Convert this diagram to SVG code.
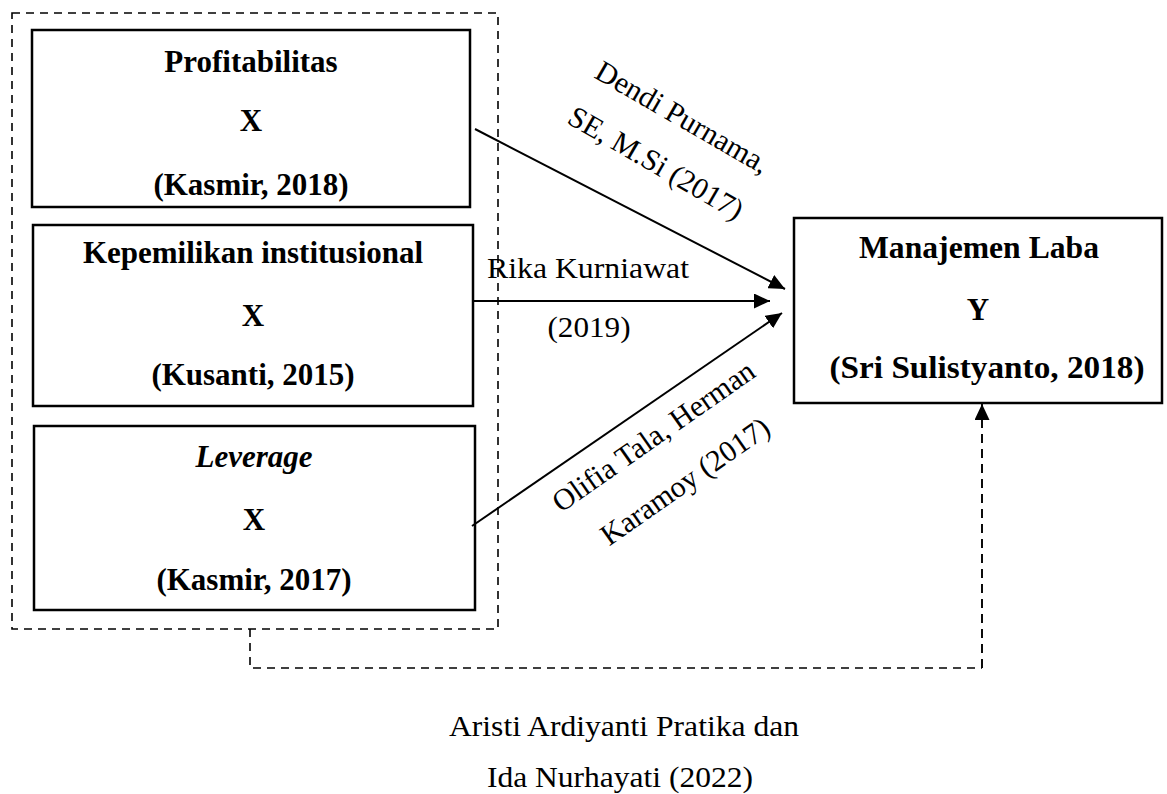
<svg xmlns="http://www.w3.org/2000/svg" width="1167" height="794" viewBox="0 0 1167 794">
<style>
  .box { fill: #ffffff; stroke: #000000; stroke-width: 2.5; }
  .dash { fill: none; stroke: #000000; stroke-width: 1.6; stroke-dasharray: 8 6; }
  .dash2 { fill: none; stroke: #000000; stroke-width: 1.9; stroke-dasharray: 9 6; }
  .arrow { fill: none; stroke: #000000; stroke-width: 2; }
  .bt { font-family: "Liberation Serif", "Times New Roman", serif; font-size: 31px; font-weight: bold; fill: #000000; text-anchor: middle; }
  .lb { font-family: "Liberation Serif", "Times New Roman", serif; font-size: 30px; fill: #000000; text-anchor: middle; }
</style>
<defs>
  <marker id="head" markerUnits="userSpaceOnUse" markerWidth="16" markerHeight="15" refX="16" refY="7.5" orient="auto">
    <path d="M0,0 L16,7.5 L0,15 z" fill="#000000"/>
  </marker>
</defs>
<rect width="1167" height="794" fill="#ffffff"/>

<g id="group-x">
  <rect class="dash" x="12" y="13" width="486" height="616"/>
</g>

<g id="node-profitabilitas">
  <rect class="box" x="32" y="30" width="438" height="177"/>
  <text class="bt" x="251" y="72">Profitabilitas</text>
  <text class="bt" x="251" y="131">X</text>
  <text class="bt" x="251" y="195">(Kasmir, 2018)</text>
</g>

<g id="node-kepemilikan">
  <rect class="box" x="33" y="225" width="440" height="181"/>
  <text class="bt" x="253" y="263">Kepemilikan institusional</text>
  <text class="bt" x="253" y="326">X</text>
  <text class="bt" x="253" y="385">(Kusanti, 2015)</text>
</g>

<g id="node-leverage">
  <rect class="box" x="34" y="426" width="441" height="184"/>
  <text class="bt" x="254" y="467" font-style="italic">Leverage</text>
  <text class="bt" x="254" y="530">X</text>
  <text class="bt" x="254" y="590">(Kasmir, 2017)</text>
</g>

<g id="node-manajemen-laba">
  <rect class="box" x="794" y="218" width="368" height="185"/>
  <text class="bt" x="979" y="258" textLength="240" lengthAdjust="spacingAndGlyphs">Manajemen Laba</text>
  <text class="bt" x="978" y="320">Y</text>
  <text class="bt" x="987" y="378" textLength="315" lengthAdjust="spacingAndGlyphs">(Sri Sulistyanto, 2018)</text>
</g>

<g id="connectors">
  <line class="arrow" x1="475" y1="129" x2="785" y2="289" marker-end="url(#head)"/>
  <line class="arrow" x1="473" y1="301" x2="770" y2="301" marker-end="url(#head)"/>
  <line class="arrow" x1="472" y1="526" x2="782" y2="313" marker-end="url(#head)"/>
  <path class="dash" d="M250,629 L250,668 L982,668"/>
  <path class="dash2" d="M982,668 L982,404" marker-end="url(#head)"/>
</g>

<g id="labels">
  <g transform="translate(682,118) rotate(30)">
    <text class="lb" x="0" y="9">Dendi Purnama,</text>
    <text class="lb" x="0" y="62">SE, M.Si (2017)</text>
  </g>
  <text class="lb" x="588" y="278" textLength="202" lengthAdjust="spacingAndGlyphs">Rika Kurniawat</text>
  <text class="lb" x="589" y="337" textLength="83" lengthAdjust="spacingAndGlyphs">(2019)</text>
  <g transform="translate(654,437) rotate(-35)">
    <text class="lb" x="0" y="9">Olifia Tala, Herman</text>
    <text class="lb" x="0" y="64">Karamoy (2017)</text>
  </g>
  <text class="lb" x="624" y="736" textLength="350" lengthAdjust="spacingAndGlyphs">Aristi Ardiyanti Pratika dan</text>
  <text class="lb" x="620" y="787" textLength="266" lengthAdjust="spacingAndGlyphs">Ida Nurhayati (2022)</text>
</g>
</svg>
